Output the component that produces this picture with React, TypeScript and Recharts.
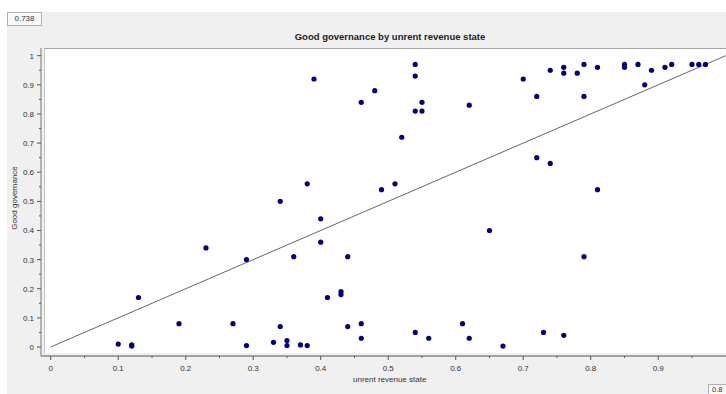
import React from 'react'
import {
  ScatterChart,
  Scatter,
  XAxis,
  YAxis,
  ReferenceLine
} from 'recharts'

// unrent revenue state (x) and good governance (y)
const revenueState = [
  0.10, 0.12, 0.12, 0.13, 0.19, 0.23, 0.27, 0.29, 0.29, 0.33,
  0.34, 0.34, 0.35, 0.35, 0.36, 0.37, 0.38, 0.38, 0.39, 0.40,
  0.40, 0.41, 0.43, 0.43, 0.44, 0.44, 0.46, 0.46, 0.46, 0.48,
  0.49, 0.51, 0.52, 0.54, 0.54, 0.54, 0.54, 0.55, 0.55, 0.56,
  0.61, 0.62, 0.62, 0.65, 0.67, 0.70, 0.72, 0.72, 0.73, 0.74,
  0.74, 0.76, 0.76, 0.76, 0.78, 0.79, 0.79, 0.79, 0.81, 0.81,
  0.85, 0.85, 0.87, 0.88, 0.89, 0.91, 0.92, 0.95, 0.96, 0.97
]
const goodGovernance = [
  0.01, 0.007, 0.003, 0.17, 0.08, 0.34, 0.08, 0.30, 0.005, 0.016,
  0.07, 0.50, 0.022, 0.005, 0.31, 0.007, 0.005, 0.56, 0.92, 0.44,
  0.36, 0.17, 0.19, 0.18, 0.31, 0.07, 0.08, 0.03, 0.84, 0.88,
  0.54, 0.56, 0.72, 0.97, 0.93, 0.81, 0.05, 0.84, 0.81, 0.03,
  0.08, 0.83, 0.03, 0.40, 0.003, 0.92, 0.86, 0.65, 0.05, 0.95,
  0.63, 0.96, 0.94, 0.04, 0.94, 0.97, 0.86, 0.31, 0.96, 0.54,
  0.97, 0.96, 0.97, 0.90, 0.95, 0.96, 0.97, 0.97, 0.97, 0.97
]

const xTicks = [0, 0.05, 0.1, 0.15, 0.2, 0.25, 0.3, 0.35, 0.4, 0.45, 0.5, 0.55, 0.6, 0.65, 0.7, 0.75, 0.8, 0.85, 0.9, 0.95]
const yTicks = [0, 0.05, 0.1, 0.15, 0.2, 0.25, 0.3, 0.35, 0.4, 0.45, 0.5, 0.55, 0.6, 0.65, 0.7, 0.75, 0.8, 0.85, 0.9, 0.95, 1]

const points = revenueState.map((x, i) => ({ x, y: goodGovernance[i] }))

const font = '"Liberation Sans", Arial, sans-serif'
const isMajor = (v: number) => Math.round(v * 100) % 10 === 0

const XTick = (props: any) => {
  const { x, y, payload } = props
  const major = isMajor(payload.value)
  return (
    <g>
      <line x1={x} y1={y} x2={x} y2={y + (major ? 4 : 2)} stroke="#555" />
      {major && (
        <text x={x} y={y + 15} textAnchor="middle" fontSize={8} fontFamily={font} fill="#333">
          {String(payload.value)}
        </text>
      )}
    </g>
  )
}

const YTick = (props: any) => {
  const { x, y, payload } = props
  const major = isMajor(payload.value)
  return (
    <g>
      <line x1={x - (major ? 4 : 2)} y1={y} x2={x} y2={y} stroke="#555" />
      {major && (
        <text x={x - 7} y={y + 3} textAnchor="end" fontSize={8} fontFamily={font} fill="#333">
          {String(payload.value)}
        </text>
      )}
    </g>
  )
}

const Dot = (props: any) => <circle cx={props.cx} cy={props.cy} r={2.6} fill="#000080" />

export default function App() {
  return (
    <div style={{ position: 'absolute', left: 0, top: 0, width: 726, height: 394, overflow: 'hidden', background: '#fff', fontFamily: font }}>
      {/* gray panel */}
      <div style={{ position: 'absolute', left: 7, top: 12, width: 730, height: 390, background: '#f0f0f0' }} />
      {/* plot background */}
      <div
        style={{
          position: 'absolute', left: 44, top: 48, width: 700, height: 305, background: '#fff',
          borderTop: '1px solid #a4a4a4', borderLeft: '1px solid #c4c4c4', boxSizing: 'border-box'
        }}
      />
      <div
        style={{
          position: 'absolute', left: 7, top: 12, width: 35, height: 14, boxSizing: 'border-box',
          border: '1px solid #b0b0b0', background: '#f8f8f8', fontSize: 8, color: '#333',
          textAlign: 'center', lineHeight: '12px'
        }}
      >
        0.738
      </div>
      <div style={{ position: 'absolute', left: 0, width: 780, top: 31, textAlign: 'center', fontSize: 9.5, fontWeight: 'bold', color: '#222', lineHeight: '12px' }}>
        Good governance by unrent revenue state
      </div>

      <div style={{ position: 'absolute', left: 0, top: 0 }}>
        <ScatterChart width={760} height={394} margin={{ top: 48, right: 14, bottom: 0, left: 0 }}>
          <XAxis
            dataKey="x"
            type="number"
            domain={[-0.0144, 1.03]}
            ticks={xTicks}
            interval={0}
            height={38}
            tickSize={0}
            tickMargin={0}
            tickLine={false}
            axisLine={{ stroke: '#555' }}
            tick={(p: any) => <XTick {...p} />}
            allowDataOverflow
          />
          <YAxis
            dataKey="y"
            type="number"
            domain={[-0.0309, 1.0264]}
            ticks={yTicks}
            interval={0}
            width={41}
            tickSize={0}
            tickMargin={0}
            tickLine={false}
            axisLine={{ stroke: '#777' }}
            tick={(p: any) => <YTick {...p} />}
            allowDataOverflow
          />
          <ReferenceLine
            segment={[{ x: 0, y: 0 }, { x: 1, y: 1 }]}
            stroke="#666"
            strokeWidth={1}
            ifOverflow="visible"
          />
          <Scatter data={points} fill="#000080" shape={Dot} isAnimationActive={false} />
        </ScatterChart>
      </div>

      <div style={{ position: 'absolute', left: 353, top: 375, fontSize: 8, color: '#333', whiteSpace: 'nowrap', lineHeight: '10px' }}>
        unrent revenue state
      </div>
      <div
        style={{
          position: 'absolute', left: 15, top: 198, fontSize: 8, color: '#333', whiteSpace: 'nowrap', lineHeight: '10px',
          transform: 'translate(-50%, -50%) rotate(-90deg)'
        }}
      >
        Good governance
      </div>
      <div
        style={{
          position: 'absolute', left: 708, top: 384, width: 18, height: 12, boxSizing: 'border-box',
          border: '1px solid #b0b0b0', borderRight: 'none', background: '#f8f8f8', fontSize: 7.5, color: '#333',
          paddingLeft: 3, lineHeight: '9px', whiteSpace: 'nowrap'
        }}
      >
        0.8
      </div>
    </div>
  )
}
